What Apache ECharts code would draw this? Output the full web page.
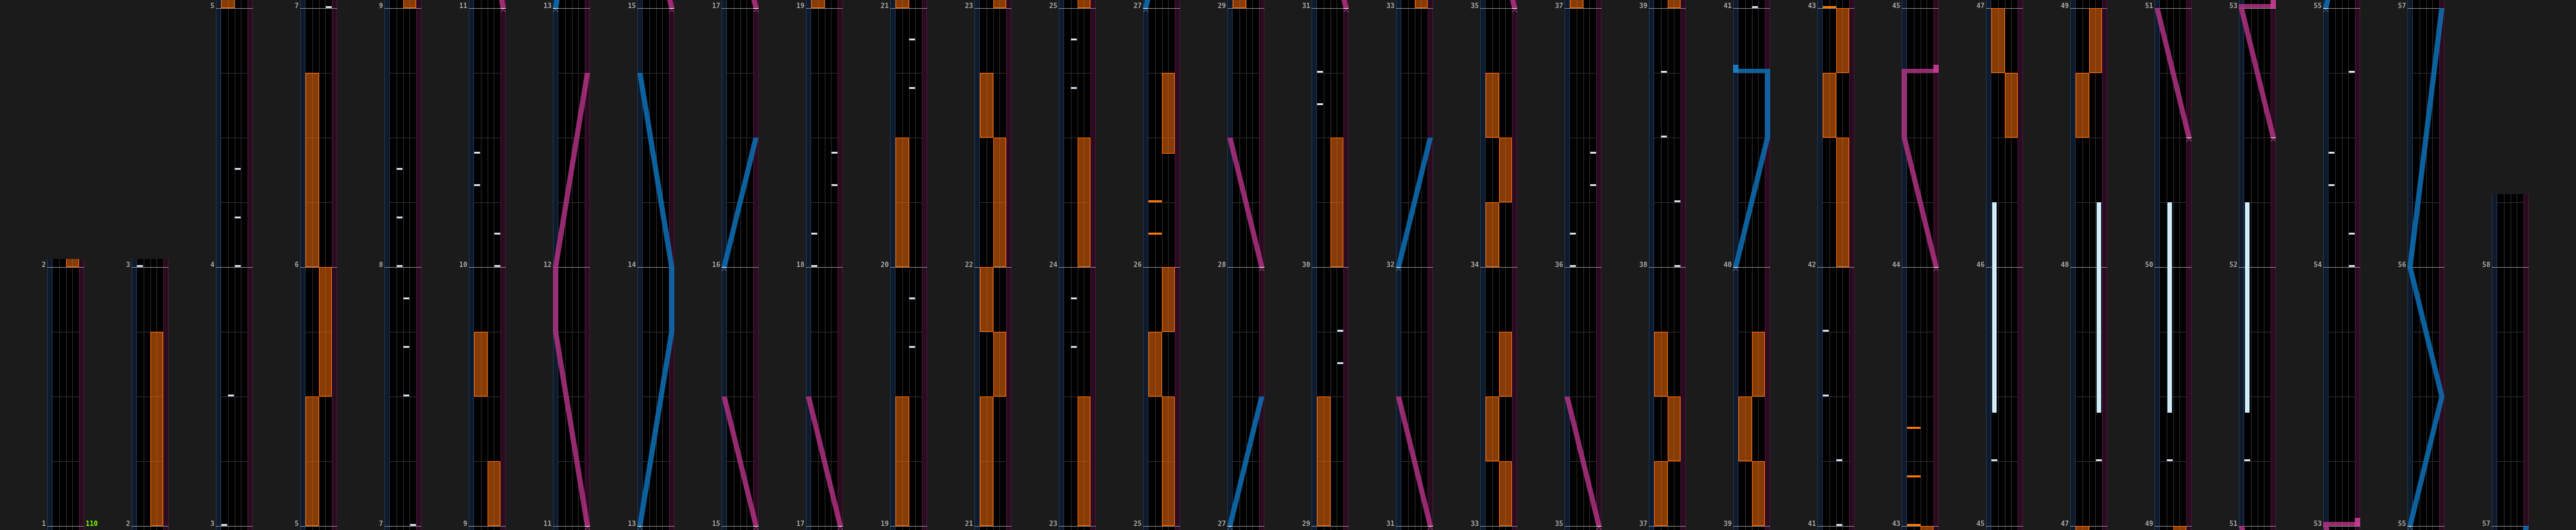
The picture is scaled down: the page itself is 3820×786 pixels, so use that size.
<!DOCTYPE html>
<html>
<head>
<meta charset="utf-8">
<script src="https://cdn.jsdelivr.net/npm/echarts@6.0.0/dist/echarts.min.js"></script>
<style>
html,body{margin:0;padding:0;background:#1b1b1b;}
#chart{width:3820px;height:786px;}
</style>
</head>
<body>
<div id="chart"></div>
<script>
// ---------------- chart data ----------------
// columns: first and last measure shown in each column
const colFirstMeasure = [1,2,3,5,7,9,11,13,15,17,19,21,23,25,27,29,31,33,35,37,39,41,43,45,47,49,51,53,55,57];
const colLastMeasure  = [1,2,4,6,8,10,12,14,16,18,20,22,24,26,28,30,32,34,36,38,40,42,44,46,48,50,52,54,56,57];
const chartEndMeasure = 58.28125;

// tempo marks: [measure, label]
const bpmMarks = [[1, '110']];

// BT chips: [time (measure + fraction), lane 0..3]
const btChips = [
  [3,0],[3.5,1],
  [4,2],[4.1875,2],[4.375,2],
  [7,3],[7.5,2],[7.6875,2],[7.875,2],
  [8,1],[8.1875,1],[8.375,1],
  [10,3],[10.125,3],[10.3125,0],[10.4375,0],
  [18,0],[18.125,0],[18.3125,3],[18.4375,3],
  [19.6875,2],[19.875,2],
  [20.6875,2],[20.875,2],
  [23.6875,1],[23.875,1],
  [24.6875,1],[24.875,1],
  [29.625,3],[29.75,3],
  [30.625,0],[30.75,0],
  [36,0],[36.125,0],[36.3125,3],[36.4375,3],
  [38,3],[38.25,3],[38.5,1],[38.75,1],
  [41,2],[41.25,2],[41.5,0],[41.75,0],
  [45.25,0],[47.25,3],[49.25,1],[51.25,0],
  [54,3],[54.125,3],[54.3125,0],[54.4375,0],[54.75,3]
];

// FX chips: [time, side 0 = left pair, 1 = right pair]
const fxChips = [[26.125,0],[26.25,0],[43,0],[43.1875,0],[43.375,0]];

// FX holds: [start, end, side]
const fxHolds = [
  [2,2.75,1],
  [5,5.5,0],[5.5,6,1],[6,6.75,0],
  [9,9.25,1],[9.5,9.75,0],
  [19,19.5,0],[20,20.5,0],
  [21,21.5,0],[21.5,21.75,1],[21.75,22,0],[22,22.5,1],[22.5,22.75,0],
  [23,23.5,1],[24,24.5,1],
  [25,25.5,1],[25.5,25.75,0],[25.75,26,1],[26.4375,26.75,1],
  [29,29.5,0],[30,30.5,1],
  [33,33.25,1],[33.25,33.5,0],[33.5,33.75,1],[34,34.25,0],[34.25,34.5,1],[34.5,34.75,0],
  [37,37.25,0],[37.25,37.5,1],[37.5,37.75,0],
  [39,39.25,1],[39.25,39.5,0],[39.5,39.75,1],
  [42,42.5,1],[42.5,42.75,0],[42.75,43,1],
  [46.5,46.75,1],[46.75,47,0],
  [48.5,48.75,0],[48.75,49,1]
];

// BT holds: [start, end, lane]
const btHolds = [[45.4375,46.25,0],[47.4375,48.25,3],[49.4375,50.25,1],[51.4375,52.25,0]];

// Lasers: list of point lists [time, position 0..1]; equal times = slam
const laserLeft = [
  [[13,0],[13.75,1],[14,1],[14.75,0]],
  [[16,0],[16.5,1]],
  [[27,0],[27.5,1]],
  [[32,0],[32.5,1]],
  [[40,0],[40.5,1],[40.75,1],[40.75,0]],
  [[55,0],[55.5,1],[56,0],[57,1]]
];
const laserRight = [
  [[11,1],[11.75,0],[12,0],[12.75,1]],
  [[15,1],[15.5,0]],
  [[17,1],[17.5,0]],
  [[28,1],[28.5,0]],
  [[31,1],[31.5,0]],
  [[35,1],[35.5,0]],
  [[44,1],[44.5,0],[44.75,0],[44.75,1]],
  [[50.5,1],[51,0]],
  [[52.5,1],[53,0],[53,1]]
];

// ---------------- rendering ----------------
const PX_PER_MEASURE = 384;
const COL_LEFT0 = 70, COL_PITCH = 125, COL_WIDTH = 55;
const LASER_COLOR = { L: 'rgba(14,112,182,0.86)', R: 'rgba(188,52,138,0.8)' };
const LASER_TAIL = { L: 'rgba(30,125,195,0.95)', R: 'rgba(200,60,150,0.9)' };
const LASER_MARK = { L: '#4d86b4', R: '#b0588e' };
const laserX = v => -0.4 + 4.8 * v;

function R(x, y, w, h, fill, stroke, lw) {
  const s = { fill: fill };
  if (stroke) { s.stroke = stroke; s.lineWidth = lw || 1; }
  return { type: 'rect', shape: { x: x, y: y, width: w, height: h }, style: s, silent: true };
}
function L(x1, y1, x2, y2, stroke, lw) {
  return { type: 'line', shape: { x1: x1, y1: y1, x2: x2, y2: y2 }, style: { stroke: stroke, lineWidth: lw || 1, fill: null }, silent: true };
}

function buildItems(lo, hi) {
  const items = [{ kind: 'bg' }];
  fxHolds.forEach(h => {
    if (h[1] > lo && h[0] < hi) items.push({ kind: 'fxh', t0: Math.max(h[0], lo), t1: Math.min(h[1], hi), cut0: h[0] < lo, cut1: h[1] > hi, side: h[2] });
  });
  btHolds.forEach(h => {
    if (h[1] > lo && h[0] < hi) items.push({ kind: 'bth', t0: Math.max(h[0], lo), t1: Math.min(h[1], hi), lane: h[2] });
  });
  btChips.forEach(c => { if (c[0] >= lo && c[0] <= hi) items.push({ kind: 'chip', t: c[0], lane: c[1] }); });
  fxChips.forEach(c => { if (c[0] >= lo && c[0] <= hi) items.push({ kind: 'fxchip', t: c[0], side: c[1] }); });
  const addLaser = (pts, side) => {
    const n = pts.length;
    for (let k = 0; k < n - 1; k++) {
      const ta = pts[k][0], va = pts[k][1], tb = pts[k + 1][0], vb = pts[k + 1][1];
      if (tb > ta) {
        if (tb <= lo || ta >= hi) continue;
        const a = Math.max(ta, lo), b = Math.min(tb, hi);
        const vA = va + (vb - va) * (a - ta) / (tb - ta);
        const vB = va + (vb - va) * (b - ta) / (tb - ta);
        items.push({ kind: 'lseg', side: side, t0: a, v0: vA, t1: b, v1: vB });
      } else if (ta >= lo && ta <= hi) {
        items.push({ kind: 'slam', side: side, t: ta, v0: va, v1: vb, tail: k + 1 === n - 1 });
      }
    }
    if (pts[0][0] >= lo && pts[0][0] <= hi) items.push({ kind: 'lstart', side: side, t: pts[0][0], v: pts[0][1] });
  };
  laserLeft.forEach(p => addLaser(p, 'L'));
  laserRight.forEach(p => addLaser(p, 'R'));
  bpmMarks.forEach(b => { if (b[0] >= lo && b[0] <= hi) items.push({ kind: 'bpm', t: b[0], text: b[1] }); });
  return items;
}

function makeRenderer(items, lo, hi) {
  return function (params, api) {
    const it = items[params.dataIndex];
    const P = (x, t) => api.coord([x, t]);
    const rx = x => Math.round(P(x, lo)[0]);
    const ry = t => Math.round(P(0, t)[1]);
    switch (it.kind) {
      case 'bg': {
        const ch = [];
        const yTop = ry(hi), yBot = ry(lo);
        const xL = rx(-0.8), x0 = rx(0), x4 = rx(4), xR = rx(4.8);
        ch.push(R(x0, yTop, x4 - x0, yBot - yTop, '#000000'));
        ch.push(R(xL, yTop, x0 - xL, yBot - yTop, '#0f1a2c'));
        ch.push(R(x4, yTop, xR - x4, yBot - yTop, '#2a0c20'));
        ch.push(L(xL + 0.5, yTop, xL + 0.5, yBot, '#1d3854'));
        ch.push(L(x0 - 0.5, yTop, x0 - 0.5, yBot, '#1d3854'));
        ch.push(L(x4 + 0.5, yTop, x4 + 0.5, yBot, '#4a1636'));
        ch.push(L(xR - 0.5, yTop, xR - 0.5, yBot, '#4a1636'));
        for (let k = 1; k <= 3; k++) { const x = rx(k) + 0.5; ch.push(L(x, yTop, x, yBot, '#2b2b2b')); }
        for (let m = Math.floor(lo); m <= Math.ceil(hi); m++) {
          for (let q = 1; q <= 3; q++) {
            const t = m + q / 4;
            if (t > lo && t < hi) { const y = ry(t) + 0.5; ch.push(L(x0, y, x4, y, '#2e2e2e')); }
          }
        }
        for (let m = Math.ceil(lo); m <= Math.floor(hi); m++) {
          const y = ry(m);
          ch.push(L(xL, y + 0.5, xR, y + 0.5, '#858585'));
          ch.push({ type: 'text', silent: true, style: { text: String(m), x: xL - 2, y: y + 2, align: 'right', verticalAlign: 'bottom', fill: '#a6a6a6', font: 'bold 10px "DejaVu Sans Mono"' } });
        }
        return { type: 'group', children: ch };
      }
      case 'fxh': {
        const xa = rx(it.side * 2), xb = rx(it.side * 2 + 2);
        const ya = ry(it.t1), yb = ry(it.t0);
        const ch = [R(xa, ya, xb - xa, yb - ya, 'rgba(255,112,10,0.53)')];
        ch.push(L(xa + 0.5, ya, xa + 0.5, yb, '#ff6a00'));
        ch.push(L(xb - 0.5, ya, xb - 0.5, yb, '#ff6a00'));
        if (!it.cut1) ch.push(L(xa, ya + 0.5, xb, ya + 0.5, '#ff6a00'));
        if (!it.cut0) ch.push(L(xa, yb - 0.5, xb, yb - 0.5, '#ff6a00'));
        return { type: 'group', children: ch };
      }
      case 'bth': {
        const xa = rx(it.lane + 0.15), xb = rx(it.lane + 0.85);
        const ya = ry(it.t1), yb = ry(it.t0);
        return { type: 'group', children: [
          R(xa, ya, xb - xa, yb - ya, '#8fc6e2'),
          R(xa + 1, ya, xb - xa - 2, yb - ya, '#e6f3fa'),
          L(xa + (xb - xa) / 2, ya, xa + (xb - xa) / 2, yb, '#b7dcef')
        ] };
      }
      case 'chip': {
        const xa = rx(it.lane + 0.05), xb = rx(it.lane + 0.95), y = ry(it.t);
        return { type: 'group', children: [
          R(xa, y - 3, xb - xa, 3, '#a9bccd'),
          R(xa + 1, y - 2, xb - xa - 2, 1, '#ffffff')
        ] };
      }
      case 'fxchip': {
        const xa = rx(it.side * 2), xb = rx(it.side * 2 + 2), y = ry(it.t);
        return R(xa, y - 3, xb - xa, 3, '#ff7800');
      }
      case 'lseg': {
        const a = laserX(it.v0), b = laserX(it.v1);
        const pts = [P(a - 0.4, it.t0), P(a + 0.4, it.t0), P(b + 0.4, it.t1), P(b - 0.4, it.t1)];
        return { type: 'polygon', shape: { points: pts }, style: { fill: LASER_COLOR[it.side] }, silent: true };
      }
      case 'slam': {
        const a = laserX(it.v0), b = laserX(it.v1);
        const xa = rx(Math.min(a, b) - 0.4), xb = rx(Math.max(a, b) + 0.4), y = ry(it.t);
        const ch = [R(xa, y - 6, xb - xa, 6, LASER_COLOR[it.side])];
        if (it.tail) {
          const ta = rx(b - 0.4), tb = rx(b + 0.4);
          ch.push(R(ta, y - 12, tb - ta, 12, LASER_TAIL[it.side]));
        }
        return { type: 'group', children: ch };
      }
      case 'lstart': {
        const c = laserX(it.v), y = ry(it.t);
        const xa = P(c - 0.4, it.t)[0], xb = P(c + 0.4, it.t)[0], xc = P(c, it.t)[0];
        return { type: 'group', children: [
          L(xa, y + 0.5, xb, y + 0.5, '#f0f0f0'),
          { type: 'polyline', shape: { points: [[xc - 3.5, y + 6], [xc, y + 1.5], [xc + 3.5, y + 6]] }, style: { stroke: LASER_MARK[it.side], lineWidth: 1, fill: null }, silent: true }
        ] };
      }
      case 'bpm': {
        const x = rx(4.8) + 2, y = ry(it.t);
        return { type: 'text', silent: true, style: { text: it.text, x: x, y: y + 2, align: 'left', verticalAlign: 'bottom', fill: '#7cff00', font: 'bold 10px "DejaVu Sans Mono"' } };
      }
    }
    return null;
  };
}

const grids = [], xAxes = [], yAxes = [], series = [];
colFirstMeasure.forEach((first, i) => {
  const last = colLastMeasure[i];
  const lo = first - 1 / 64;
  const hi = (i === colFirstMeasure.length - 1) ? chartEndMeasure : last + 1 + 1 / 32;
  grids.push({ left: COL_LEFT0 + COL_PITCH * i, width: COL_WIDTH, bottom: 0, height: (hi - lo) * PX_PER_MEASURE, containLabel: false, outerBoundsMode: 'none' });
  xAxes.push({ type: 'value', gridIndex: i, min: -0.8, max: 4.8, show: false });
  yAxes.push({ type: 'value', gridIndex: i, min: lo, max: hi, show: false });
  const items = buildItems(lo, hi);
  series.push({
    type: 'custom', xAxisIndex: i, yAxisIndex: i, silent: true, animation: false, clip: false,
    data: items.map(() => [2, (lo + hi) / 2]),
    renderItem: makeRenderer(items, lo, hi)
  });
});

const chart = echarts.init(document.getElementById('chart'), null, { renderer: 'canvas', width: 3820, height: 786 });
chart.setOption({
  backgroundColor: '#1b1b1b',
  animation: false,
  grid: grids, xAxis: xAxes, yAxis: yAxes, series: series
});
</script>
</body>
</html>
